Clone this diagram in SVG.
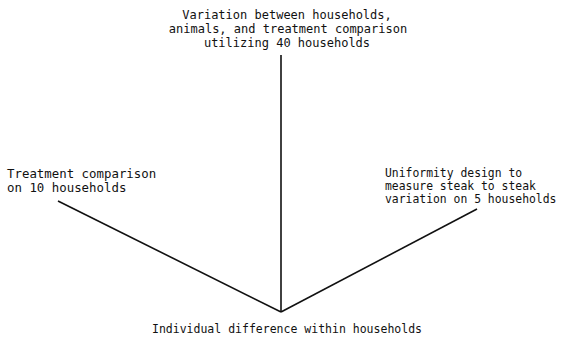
<svg xmlns="http://www.w3.org/2000/svg" width="563" height="340" viewBox="0 0 563 340">
<style>
text{font-family:"DejaVu Sans Mono","Liberation Mono",monospace;font-size:12px;fill:#111}
.c{text-anchor:middle}
.l{font-size:12.4px}
.r{font-size:11.4px}
.b{font-size:11.5px}
.ln{stroke:#111;stroke-width:1.6;fill:none}
</style>
<rect width="563" height="340" fill="#fff"/>
<g id="connectors">
<line class="ln" x1="281" y1="55" x2="281" y2="312"/>
<line class="ln" x1="58" y1="201" x2="281" y2="312"/>
<line class="ln" x1="477" y1="209" x2="281" y2="312"/>
</g>
<g id="top">
<text class="c" x="287" y="19">Variation between households,</text>
<text class="c" x="288" y="33">animals, and treatment comparison</text>
<text class="c" x="287" y="47">utilizing 40 households</text>
</g>
<g id="left">
<text class="l" x="7" y="178">Treatment comparison</text>
<text class="l" x="7" y="192">on 10 households</text>
</g>
<g id="right">
<text class="r" x="385" y="177">Uniformity design to</text>
<text class="r" x="385" y="190">measure steak to steak</text>
<text class="r" x="385" y="203">variation on 5 households</text>
</g>
<g id="bottom">
<text class="c b" x="287" y="333">Individual difference within households</text>
</g>
</svg>
